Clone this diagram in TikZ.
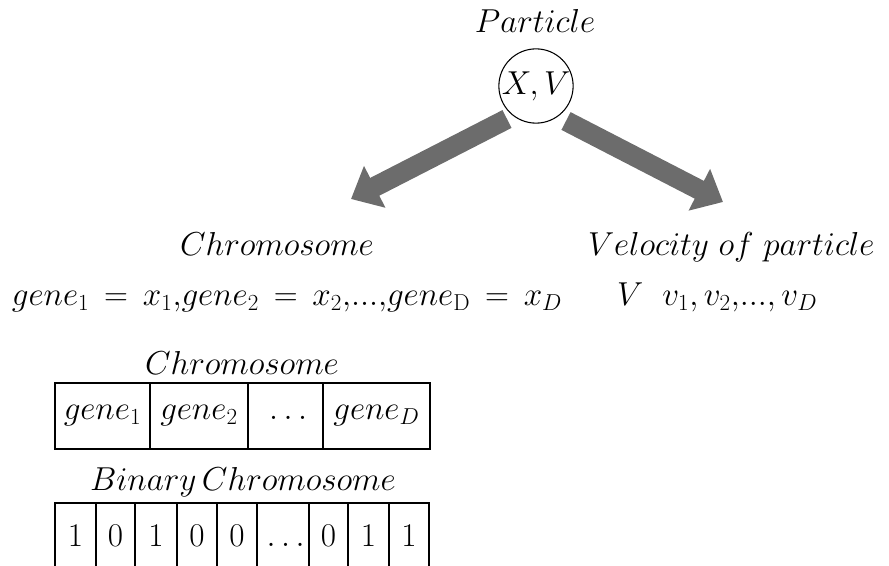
\documentclass[tikz,border=0pt]{standalone}
\usetikzlibrary{arrows.meta}
\definecolor{arrowgray}{RGB}{108,108,108}
\newcommand{\tightdots}{{,}{.}{.}{.}{,}}
\newcommand{\speq}{\,=\,}
\begin{document}
\begin{tikzpicture}[x=0.75pt,y=-0.75pt,
  txt/.style={inner sep=0pt, outer sep=0pt, font=\fontsize{24}{28}\selectfont},
  cell/.style={draw, line width=1.5pt, inner sep=0pt, outer sep=0pt, minimum height=#1, font=\fontsize{24}{28}\selectfont},
  bigarrow/.style={draw=arrowgray, line width=15pt, -{Triangle[length=20pt,width=34pt]}}
]
\useasboundingbox (0,0) rectangle (889,566);

% particle
\node[txt, anchor=base] (title) at (535,33) {$Particle$};
\node[draw, circle, line width=0.8pt, minimum size=54pt, inner sep=0pt, font=\fontsize{24}{28}\selectfont] (p) at (536,86) {$X,V$};

% arrows
\coordinate (ls) at (507,119);
\coordinate (lt) at (351,199);
\coordinate (rs) at (566,121);
\coordinate (rt) at (723,202);
\draw[bigarrow] (ls) -- (lt);
\draw[bigarrow] (rs) -- (rt);

% left branch
\node[txt, anchor=base] (chr1) at (277,256) {$Chromosome$};
\node[txt, anchor=base west] (geq) at (12,306) {$gene_1\speq x_1{,}gene_2\speq x_2\tightdots gene_{\mathrm{D}}\speq x_D$};

% right branch
\node[txt, anchor=base west] (vel) at (588,256) {$Velocity\ of\ particle$};
\node[txt, anchor=base west] (vv) at (617,306) {$V\ \ v_1,v_2\tightdots\,v_D$};

% chromosome table
\node[txt, anchor=base] (chr2) at (242,375) {$Chromosome$};
\node[cell=49.5pt, minimum width=71.25pt] (g1) at (102.5,416) {$gene_1$};
\node[cell=49.5pt, minimum width=73.5pt] (g2) at (199,416) {$gene_2$};
\node[cell=49.5pt, minimum width=56.25pt] (g3) at (285.5,416) {$\vphantom{gene_1}\ldots$};
\node[cell=49.5pt, minimum width=80.25pt] (g4) at (376.5,416) {$gene_D$};

% binary chromosome table
\node[txt, anchor=base] (bin) at (243,490) {$Binary\,Chromosome$};
\node[cell=48.75pt, minimum width=30.75pt] (b1) at (75.5,535.5) {$1$};
\node[cell=48.75pt, minimum width=29.25pt] (b2) at (115.5,535.5) {$0$};
\node[cell=48.75pt, minimum width=31.5pt] (b3) at (156,535.5) {$1$};
\node[cell=48.75pt, minimum width=30pt] (b4) at (197,535.5) {$0$};
\node[cell=48.75pt, minimum width=30pt] (b5) at (237,535.5) {$0$};
\node[cell=48.75pt, minimum width=39pt] (b6) at (283,535.5) {$\vphantom{0}\ldots$};
\node[cell=48.75pt, minimum width=29.25pt] (b7) at (328.5,535.5) {$0$};
\node[cell=48.75pt, minimum width=30.75pt] (b8) at (368.5,535.5) {$1$};
\node[cell=48.75pt, minimum width=30pt] (b9) at (409,535.5) {$1$};
\end{tikzpicture}
\end{document}
